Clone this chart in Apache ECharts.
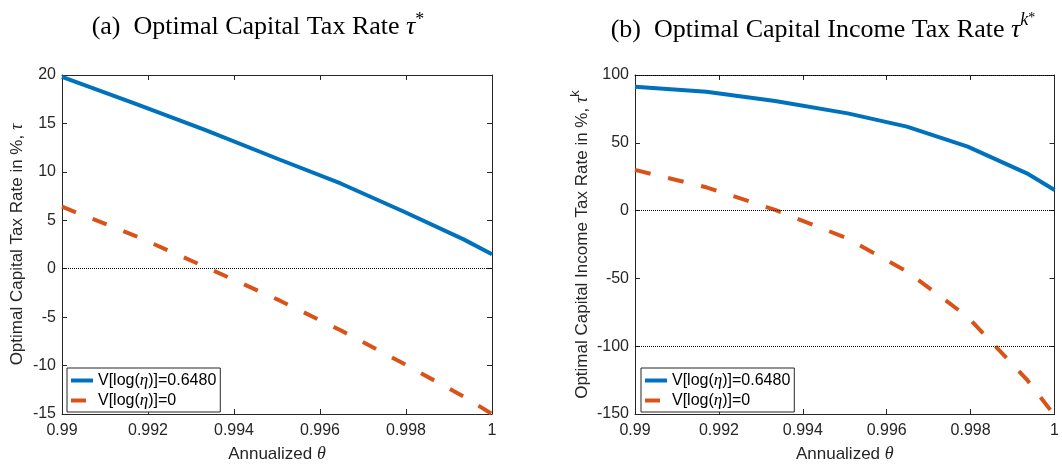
<!DOCTYPE html>
<html>
<head>
<meta charset="utf-8">
<script src="https://cdn.jsdelivr.net/npm/echarts@6/dist/echarts.min.js"></script>
<style>html,body{margin:0;padding:0;background:#fff;}#c{width:1062px;height:468px;}</style>
</head>
<body>
<div id="c"></div>
<script>
// ---- data ----
const theta = [0.99, 0.9917, 0.99334, 0.99507, 0.99648, 0.99793, 0.99934, 1.0];
const capTaxHet   = [19.8, 17.05, 14.3, 11.25, 8.8, 5.93, 3.03, 1.5];
const capTaxNoHet = [6.4, 3.4, 0.17, -3.3, -6.36, -9.76, -13.2, -15.0];
const incTaxHet   = [91.4, 87.7, 80.8, 71.7, 61.9, 47.2, 27.5, 15.2];
const incTaxNoHet = [30.0, 17.2, 0.5, -20.6, -44.8, -78.4, -124.6, -151];
const seriesNames = ['V[log(η)]=0.6480', 'V[log(η)]=0'];
const xTicks = { min: 0.99, max: 1, interval: 0.002 };
const yTicksA = { min: -15, max: 20, interval: 5 };
const yTicksB = { min: -150, max: 100, interval: 50 };

const pair = (xs, ys) => xs.map((x, i) => [x, ys[i]]);
const AX = '#262626';
const BLUE = '#0072BD', ORANGE = '#D95319';
const SANS = 'Liberation Sans, Arial, Helvetica, sans-serif';
const SERIF = 'Liberation Serif, Times New Roman, serif';

const chart = echarts.init(document.getElementById('c'), null, { renderer: 'canvas' });

function xAx(grid, top) {
  return {
    type: 'value', gridIndex: grid, min: xTicks.min, max: xTicks.max, interval: xTicks.interval,
    position: top ? 'top' : 'bottom',
    axisLine: { show: true, onZero: false, lineStyle: { color: AX, width: 1 } },
    axisTick: { show: true, inside: true, length: 5, lineStyle: { color: AX } },
    axisLabel: top ? { show: false } : {
      show: true, color: AX, fontFamily: SANS, fontSize: 16, margin: 9,
      formatter: v => String(+(+v).toFixed(3))
    },
    splitLine: { show: false },
    name: top ? '' : '{a|Annualized }{t|θ}',
    nameLocation: 'middle', nameGap: 31,
    nameTextStyle: { rich: {
      a: { fontFamily: SANS, fontSize: 17, color: AX },
      t: { fontFamily: SERIF, fontStyle: 'italic', fontSize: 18, color: AX }
    } }
  };
}
function yAx(grid, right, ticks, name, gap) {
  return {
    type: 'value', gridIndex: grid, min: ticks.min, max: ticks.max, interval: ticks.interval,
    position: right ? 'right' : 'left',
    axisLine: { show: true, onZero: false, lineStyle: { color: AX, width: 1 } },
    axisTick: { show: true, inside: true, length: 5, lineStyle: { color: AX } },
    axisLabel: right ? { show: false } : { show: true, color: AX, fontFamily: SANS, fontSize: 16, margin: 6 },
    splitLine: { show: false },
    name: right ? '' : name,
    nameLocation: 'middle', nameGap: gap, nameRotate: 90,
    nameTextStyle: { rich: {
      a: { fontFamily: SANS, fontSize: 17, color: AX },
      t: { fontFamily: SERIF, fontStyle: 'italic', fontSize: 18, color: AX },
      k: { fontFamily: SANS, fontSize: 13, color: AX, verticalAlign: 'top', lineHeight: 26 }
    } }
  };
}
const legendRich = {
  a: { fontFamily: SANS, fontSize: 16, color: '#000' },
  e: { fontFamily: SERIF, fontStyle: 'italic', fontSize: 17, color: '#000' }
};
const legendFmt = n => n.split('η').map(p => '{a|' + p + '}').join('{e|η}');
function legend(grid, left) {
  return {
    show: true, orient: 'vertical', left: left, top: 368,
    data: seriesNames.map(n => ({ name: n })),
    formatter: legendFmt,
    textStyle: { rich: legendRich },
    itemWidth: 22, itemHeight: 12, itemGap: 3,
    itemStyle: { opacity: 0 },
    lineStyle: { width: 4 },
    padding: [4, 4, 3, 2],
    backgroundColor: '#fff', borderColor: AX, borderWidth: 1, borderRadius: 0,
    selectedMode: false
  };
}
function zeroLines(vals) {
  return {
    silent: true, symbol: 'none', animation: false,
    label: { show: false },
    lineStyle: { type: 'dotted', color: '#000', width: 1 },
    data: vals.map(v => ({ yAxis: v }))
  };
}

const titleRich = {
  n: { fontFamily: SERIF, fontWeight: 'normal', fontSize: 26, color: '#000', lineHeight: 32 },
  t: { fontFamily: SERIF, fontWeight: 'normal', fontStyle: 'italic', fontSize: 26, color: '#000', lineHeight: 32 },
  s: { fontFamily: SERIF, fontWeight: 'normal', fontSize: 18, color: '#000', verticalAlign: 'top', lineHeight: 32 },
  k: { fontFamily: SERIF, fontWeight: 'normal', fontStyle: 'italic', fontSize: 18, color: '#000', verticalAlign: 'top', lineHeight: 32 },
  s2: { fontFamily: SERIF, fontWeight: 'normal', fontSize: 14, color: '#000', verticalAlign: 'top', lineHeight: 38 }
};

chart.setOption({
  animation: false,
  backgroundColor: '#fff',
  title: [
    { text: '{n|(a)  Optimal Capital Tax Rate }{t|τ}{s|*}', left: 253, top: 6, textAlign: 'center',
      textStyle: { fontWeight: 'normal', rich: titleRich } },
    { text: '{n|(b)  Optimal Capital Income Tax Rate }{t|τ}{k|k}{s2|*}', left: 818, top: 6, textAlign: 'center',
      textStyle: { fontWeight: 'normal', rich: titleRich } }
  ],
  grid: [
    { left: 62, top: 75, width: 430, height: 342 },
    { left: 635, top: 75, width: 425, height: 339 }
  ],
  xAxis: [xAx(0, false), xAx(0, true), xAx(1, false), xAx(1, true)],
  yAxis: [
    yAx(0, false, yTicksA, '{a|Optimal Capital Tax Rate in %, }{t|τ}', 36),
    yAx(0, true, yTicksA, '', 0),
    yAx(1, false, yTicksB, '{a|Optimal Capital Income Tax Rate in %, }{t|τ}{k|k}', 40),
    yAx(1, true, yTicksB, '', 0)
  ],
  legend: [legend(0, 67), legend(1, 641)],
  series: [
    { name: seriesNames[0], type: 'line', xAxisIndex: 0, yAxisIndex: 0, data: pair(theta, capTaxHet),
      symbol: 'none', lineStyle: { color: BLUE, width: 4 }, itemStyle: { color: BLUE }, z: 3,
      markLine: zeroLines([0]) },
    { name: seriesNames[1], type: 'line', xAxisIndex: 0, yAxisIndex: 0, data: pair(theta, capTaxNoHet),
      symbol: 'none', lineStyle: { color: ORANGE, width: 4, type: [15, 18] }, itemStyle: { color: ORANGE }, z: 3 },
    { name: seriesNames[0], type: 'line', xAxisIndex: 2, yAxisIndex: 2, data: pair(theta, incTaxHet),
      symbol: 'none', lineStyle: { color: BLUE, width: 4 }, itemStyle: { color: BLUE }, z: 3,
      markLine: zeroLines([100, 0, -100]) },
    { name: seriesNames[1], type: 'line', xAxisIndex: 2, yAxisIndex: 2, data: pair(theta, incTaxNoHet),
      symbol: 'none', lineStyle: { color: ORANGE, width: 4, type: [16, 18] }, itemStyle: { color: ORANGE }, z: 3 }
  ]
});
</script>
</body>
</html>
